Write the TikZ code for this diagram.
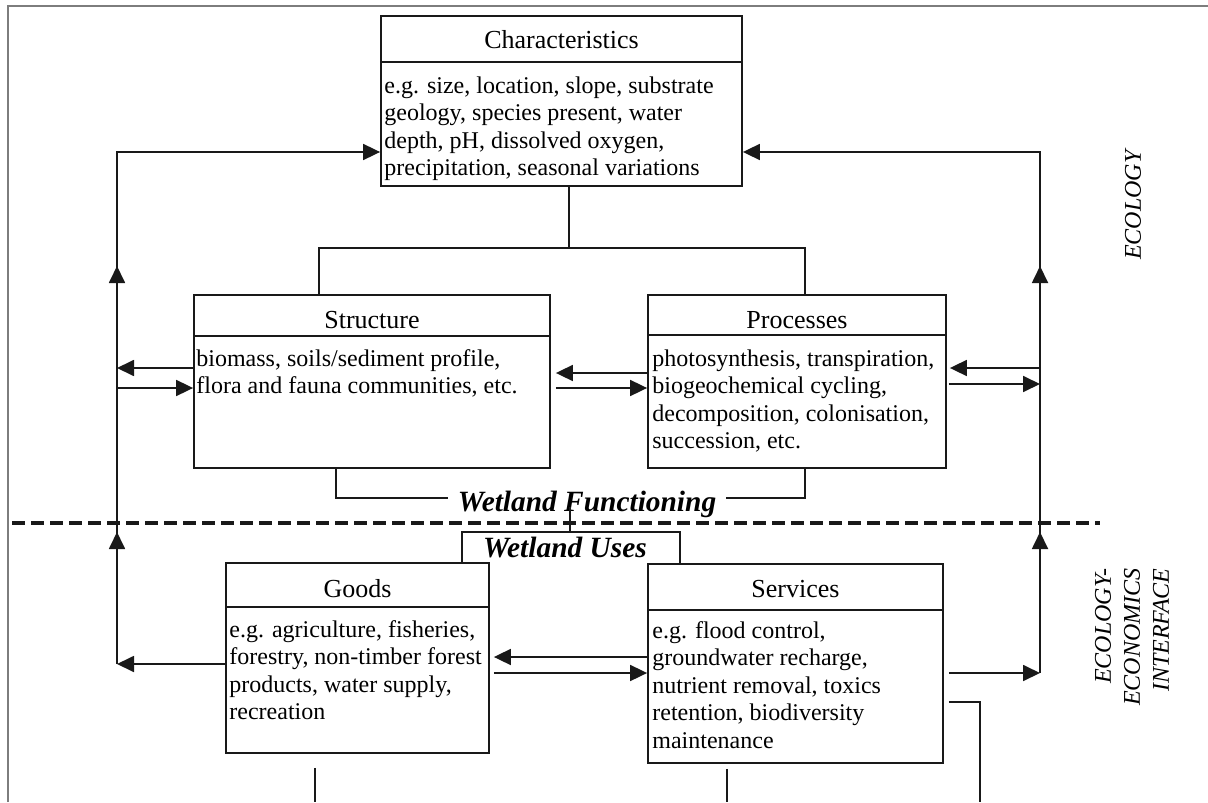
\documentclass[tikz,border=0pt]{standalone}
\usepackage{fontspec}
\setmainfont{Liberation Serif}
\usetikzlibrary{arrows.meta,fit}
\definecolor{framegray}{RGB}{125,125,125}
\definecolor{ink}{RGB}{25,25,25}

\begin{document}
\begin{tikzpicture}[x=0.5pt,y=-0.5pt,
  line/.style={draw=ink, line width=0.9pt},
  arr/.style={line, -{Triangle[length=8.5pt,width=8pt]}},
  panel/.style={draw=ink, line width=0.9pt, inner sep=0pt},
  head/.style={inner sep=0pt, anchor=base, font=\fontsize{13}{15}\selectfont},
  body/.style={inner sep=0pt, anchor=north west, align=left, font=\fontsize{12}{13.7}\selectfont},
  wlabel/.style={inner ysep=0pt, inner xsep=4.5pt, anchor=base, font=\fontsize{14.7}{16}\selectfont\bfseries\itshape},
  side/.style={rotate=90, inner sep=0pt, align=right, font=\fontsize{12}{14.5}\selectfont\itshape},
]
\useasboundingbox (0,0) rectangle (1208,802);

% outer frame
\draw[framegray, line width=1pt] (8,802) -- (8,6) -- (1208,6);

% ---- panels: outline, heading rule, heading, body text
\node[panel, fit={(381,16) (742,186)}] (char) {};
\draw[line] (char.west |- 0,62) -- (char.east |- 0,62);
\node[head] (charh) at (561.5,49) {Characteristics};
\node[body] (charb) at (384,74) {\strut e.g. size, location, slope, substrate\\geology, species present, water\\depth, pH, dissolved oxygen,\\precipitation, seasonal variations};

\node[panel, fit={(194,295) (550,468)}] (struct) {};
\draw[line] (struct.west |- 0,336) -- (struct.east |- 0,336);
\node[head] (structh) at (372,328.5) {Structure};
\node[body] (structb) at (196,347) {\strut biomass, soils/sediment profile,\\flora and fauna communities, etc.};

\node[panel, fit={(648,295) (946,468)}] (proc) {};
\draw[line] (proc.west |- 0,335) -- (proc.east |- 0,335);
\node[head] (proch) at (797,328.5) {Processes};
\node[body] (procb) at (652,347) {\strut photosynthesis, transpiration,\\biogeochemical cycling,\\decomposition, colonisation,\\succession, etc.};

\node[panel, fit={(226,563) (489,753)}] (goods) {};
\draw[line] (goods.west |- 0,607) -- (goods.east |- 0,607);
\node[head] (goodsh) at (357.5,597.5) {Goods};
\node[body] (goodsb) at (229,618) {\strut e.g. agriculture, fisheries,\\forestry, non-timber forest\\products, water supply,\\recreation};

\node[panel, fit={(648,564) (943,763)}] (serv) {};
\draw[line] (serv.west |- 0,610) -- (serv.east |- 0,610);
\node[head] (servh) at (795.5,597.5) {Services};
\node[body] (servb) at (652,619) {\strut e.g. flood control,\\groundwater recharge,\\nutrient removal, toxics\\retention, biodiversity\\maintenance};

% ---- group labels
\node[wlabel] (wf) at (587,511) {Wetland Functioning};
\node[wlabel] (wu) at (565,557) {Wetland Uses};

% ---- junction points
\coordinate (tj) at (569,248);
\coordinate (wfy) at (0,498);
\coordinate (uj) at (570,532);
\coordinate (lbus) at (117,152);
\coordinate (lbot) at (117,664);
\coordinate (rbus) at (1040,152);
\coordinate (rbot) at (1040,673);

% characteristics split into structure and processes
\draw[line] (char.south -| tj) -- (tj);
\draw[line] (struct.north -| 319,0) |- (tj) -| (proc.north -| 805,0);

% structure and processes joined as wetland functioning
\draw[line] (struct.south -| 336,0) |- (wf.west |- wfy);
\draw[line] (proc.south -| 805,0) |- (wf.east |- wfy);

% wetland functioning leads to wetland uses: goods and services
\draw[line] (570,507) -- (uj);
\draw[line] (goods.north -| 462,0) |- (uj) -| (serv.north -| 680,0);

% boundary between ecology and the interface
\draw[ink, line width=1.6pt, dash pattern=on 6.5pt off 3pt] (12,523) -- (1100,523);

% left feedback loop
\draw[arr] (lbot) -- (lbus) -- (char.west |- lbus);
\draw[arr] (117,291) -- (117,266);
\draw[arr] (117,557) -- (117,532);
\draw[arr] (goods.west |- lbot) -- (lbot);
\draw[arr] (struct.west |- 0,368) -- (lbus |- 0,368);
\draw[arr] (lbus |- 0,388) -- (struct.west |- 0,388);

% right feedback loop
\draw[arr] (rbot) -- (rbus) -- (char.east |- rbus);
\draw[arr] (1040,291) -- (1040,266);
\draw[arr] (1040,557) -- (1040,532);
\draw[arr] ([xshift=2.5pt]serv.east |- rbot) -- (rbot);
\draw[arr] (rbus |- 0,368) -- ([xshift=1.5pt]proc.east |- 0,368);
\draw[arr] ([xshift=1pt]proc.east |- 0,384) -- (rbus |- 0,384);

% exchanges between neighbouring panels
\draw[arr] (proc.west |- 0,373) -- ([xshift=2.5pt]struct.east |- 0,373);
\draw[arr] ([xshift=2.5pt]struct.east |- 0,388) -- (proc.west |- 0,388);
\draw[arr] (serv.west |- 0,657) -- ([xshift=2pt]goods.east |- 0,657);
\draw[arr] ([xshift=2pt]goods.east |- 0,673) -- (serv.west |- 0,673);

% lines leaving the lower panels
\draw[line] ([yshift=-7pt]goods.south -| 315,0) -- (315,802);
\draw[line] ([yshift=-2.5pt]serv.south -| 727,0) -- (727,802);
\draw[line] ([xshift=2.5pt]serv.east |- 0,702) -| (980,802);

% side labels
\node[side] (eco) at (1133,205) {ECOLOGY};
\node[side, anchor=east] (ecoint) at (1132,568) {ECOLOGY-\\ECONOMICS\\INTERFACE};
\end{tikzpicture}
\end{document}
